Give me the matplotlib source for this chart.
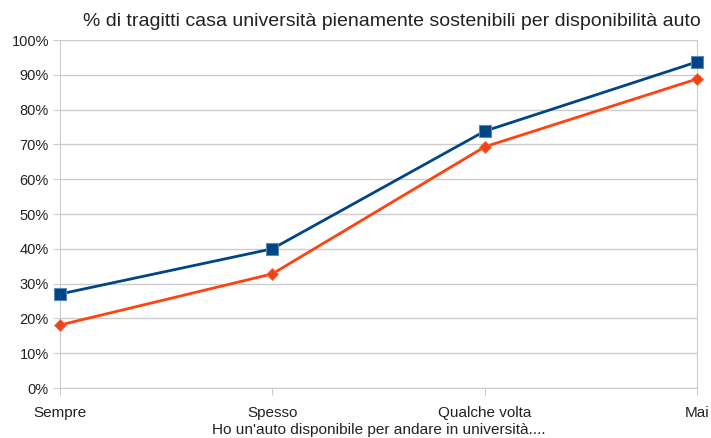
import matplotlib.pyplot as plt
from matplotlib.ticker import PercentFormatter

plt.rcParams['font.family'] = ['Liberation Sans', 'DejaVu Sans']

categories = ['Sempre', 'Spesso', 'Qualche volta', 'Mai']
serie_blu = [27.0, 40.0, 73.8, 93.7]
serie_arancio = [18.1, 32.8, 69.3, 88.8]

fig = plt.figure(figsize=(7.11, 4.38), dpi=100)
ax = fig.add_axes([60 / 711, 50 / 438, 637 / 711, 348 / 438])

x = range(len(categories))
ax.plot(x, serie_blu, color='#004586', lw=2, marker='s', ms=8,
        mfc='#004586', mec='#5a86b8', mew=0.8, zorder=4, clip_on=False)
ax.plot(x, serie_arancio, color='#ff420e', lw=2, marker='D', ms=6.5,
        mfc='#e8451f', mec='#ff6a40', mew=0.6, zorder=3, clip_on=False)

ax.set_xlim(0, 3)
ax.set_ylim(0, 100)
ax.set_yticks(range(0, 101, 10))
ax.yaxis.set_major_formatter(PercentFormatter(decimals=0))
ax.set_xticks(list(x))
ax.set_xticklabels(categories)
ax.grid(axis='y', color='#cccccc', lw=1)
ax.set_axisbelow(True)
ax.spines['top'].set_visible(False)
for s in ['left', 'right', 'bottom']:
    ax.spines[s].set_color('#cccccc')
ax.tick_params(axis='y', length=5, color='#cccccc', labelsize=10.5, labelcolor='#222222', pad=3)
ax.tick_params(axis='x', length=5, color='#cccccc', labelsize=11, labelcolor='#222222', pad=8)

ax.set_xlabel("Ho un'auto disponibile per andare in università....", fontsize=11.1, color='#222222', labelpad=2)
fig.text(392 / 711, 1 - 22 / 438, '% di tragitti casa università pienamente sostenibili per disponibilità auto',
         ha='center', va='center', fontsize=14, color='#222222')

fig.savefig('out.png', dpi=100)
